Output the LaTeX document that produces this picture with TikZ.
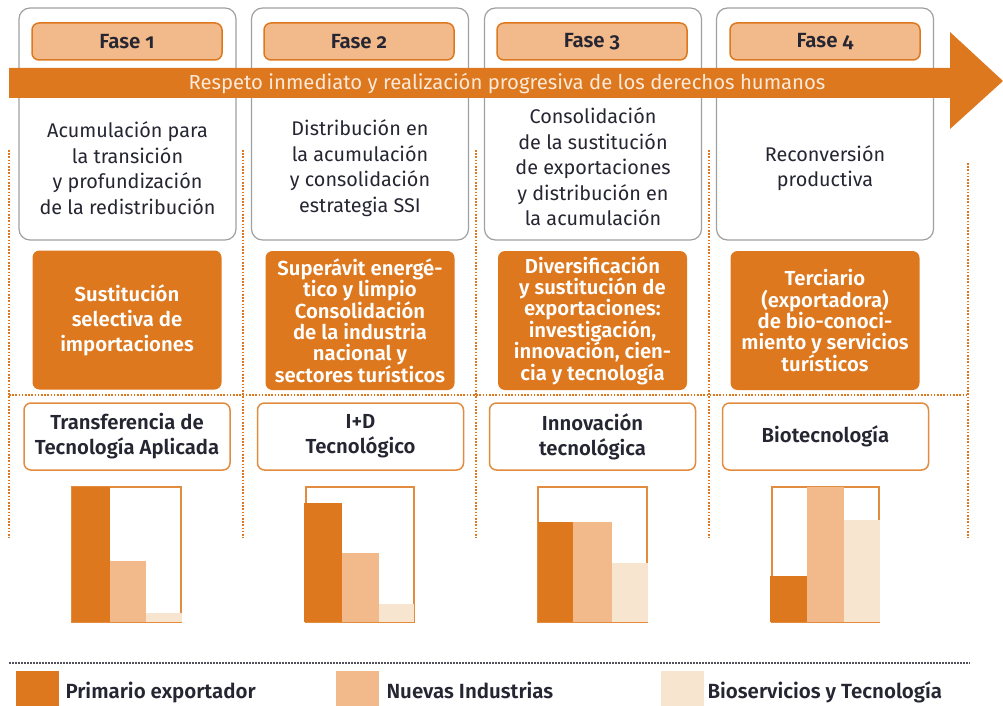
\documentclass[tikz,border=0pt]{standalone}
\usepackage{fontspec}
\setmainfont{Fira Sans}[BoldFont={Fira Sans SemiBold}]
\newfontfamily\osf{Fira Sans}[Numbers=OldStyle,BoldFont={Fira Sans SemiBold}]
\definecolor{dor}{HTML}{DD781E}
\definecolor{mor}{HTML}{F2BA8A}
\definecolor{lor}{HTML}{F8E5D0}
\definecolor{txt}{HTML}{262633}
\definecolor{gbord}{HTML}{A0A0A0}
\definecolor{cream}{HTML}{FCE9D9}
\begin{document}
\begin{tikzpicture}[x=1pt,y=-1pt,
  phasebox/.style={draw=gbord,line width=1.2pt,rounded corners=11pt,fill=white,minimum width=217pt,minimum height=232pt},
  faselabel/.style={draw=dor,line width=1.5pt,fill=mor,rounded corners=7pt,minimum width=190pt,minimum height=37pt,font=\osf\bfseries\fontsize{20.5}{22}\selectfont,text=txt},
  bodytext/.style={align=center,text=txt,font=\fontsize{19.8}{25.5}\selectfont},
  darkbox/.style={fill=dor,rounded corners=7pt,minimum width=189pt,minimum height=139pt,text=white,align=center,inner sep=1pt,font=\bfseries\fontsize{20.3}{21.4}\selectfont},
  tbox/.style={draw=dor!85,line width=1.5pt,fill=white,rounded corners=7pt,minimum width=206pt,minimum height=67pt,align=center,text=txt,inner sep=1pt,font=\bfseries\fontsize{20.3}{25}\selectfont},
  frame/.style={draw=dor!85,line width=1.2pt},
  dotl/.style={draw=dor,line width=2pt,dash pattern=on 1.6pt off 1.6pt},
  legtext/.style={anchor=base west,text=txt,font=\bfseries\fontsize{20.5}{22}\selectfont},
]
\useasboundingbox (0,0) rectangle (1003,706);
% phase boxes
\node[phasebox] (p1) at (127.5,124) {};
\node[phasebox] (p2) at (360,124) {};
\node[phasebox] (p3) at (593,124) {};
\node[phasebox] (p4) at (825,124) {};
% arrow
\fill[dor] (9,68) -- (950,68) -- (950,32) -- (1003,81) -- (950,129) -- (950,98) -- (9,98) -- cycle;
\node[text=cream,font=\fontsize{20.3}{22}\selectfont] (arr) at (507,84) {Respeto inmediato y realización progresiva de los derechos humanos};
% fase labels
\node[faselabel] (f1) at (127,41.5) {Fase 1};
\node[faselabel] (f2) at (359,41.5) {Fase 2};
\node[faselabel] (f3) at (592,41.5) {Fase 3};
\node[faselabel] (f4) at (825,41.5) {Fase 4};
% body texts
\node[bodytext] (b1) at (127.5,168) {Acumulación para\\la transición\\y profundización\\de la redistribución};
\node[bodytext] (b2) at (360,168) {Distribución en\\la acumulación\\y consolidación\\estrategia SSI};
\node[bodytext] (b3) at (593,167) {Consolidación\\de la sustitución\\de exportaciones\\y distribución en\\la acumulación};
\node[bodytext] (b4) at (825,168) {Reconversión\\productiva};
% dotted lines
\draw[dotl] (9,150) -- (9,538);
\draw[dotl] (243,150) -- (243,538);
\draw[dotl] (476,150) -- (476,538);
\draw[dotl] (709,150) -- (709,538);
\draw[dotl] (968,163) -- (968,538);
\draw[dotl] (9,395) -- (968,395);
% dark boxes
\node[darkbox,font=\bfseries\fontsize{20.3}{25}\selectfont] (d1) at (127,320) {Sustitución\\selectiva de\\importaciones};
\node[darkbox] (d2) at (360,320.5) {Superávit energé-\\tico y limpio\\Consolidación\\de la industria\\nacional y\\sectores turísticos};
\node[darkbox] (d3) at (592.5,320.5) {Diversificación\\y sustitución de\\exportaciones:\\investigación,\\innovación, cien-\\cia y tecnología};
\node[darkbox] (d4) at (825,320.5) {Terciario\\(exportadora)\\de bio-conoci-\\miento y servicios\\turísticos};
% text boxes
\node[tbox] (t1) at (127,436.5) {Transferencia de\\Tecnología Aplicada};
\node[tbox] (t2) at (360.5,436.5) {I+D\\Tecnológico};
\node[tbox] (t3) at (592.5,436.5) {Innovación\\tecnológica};
\node[tbox] (t4) at (825.5,436.5) {Biotecnología};
% charts
\draw[frame] (72,487) rectangle (181,622);
\fill[dor] (72,487) rectangle (110,622);
\fill[mor] (110,561) rectangle (146,622);
\fill[lor] (146,613) rectangle (182,622);
\draw[frame] (306,487) rectangle (414,622);
\fill[dor] (304,503) rectangle (342,622);
\fill[mor] (342,553) rectangle (379,622);
\fill[lor] (379,604) rectangle (414,622);
\draw[frame] (538,487) rectangle (647,622);
\fill[dor] (538,522) rectangle (573,622);
\fill[mor] (573,522) rectangle (612,622);
\fill[lor] (612,563) rectangle (648,622);
\draw[frame] (772,487) rectangle (879,622);
\fill[dor] (770,576) rectangle (807,622);
\fill[mor] (807,487) rectangle (844,622);
\fill[lor] (844,520) rectangle (880,622);
% legend
\draw[draw=txt!80,line width=1.5pt,dash pattern=on 1.5pt off 1.5pt] (9,663) -- (970,663);
\fill[dor] (16,671) rectangle (59,706);
\node[legtext] (l1) at (62,698) {Primario exportador};
\fill[mor] (336,671) rectangle (379,706);
\node[legtext] (l2) at (383,698) {Nuevas Industrias};
\fill[lor] (661,671) rectangle (704,706);
\node[legtext] (l3) at (704,698) {Bioservicios y Tecnología};
\end{tikzpicture}
\end{document}
